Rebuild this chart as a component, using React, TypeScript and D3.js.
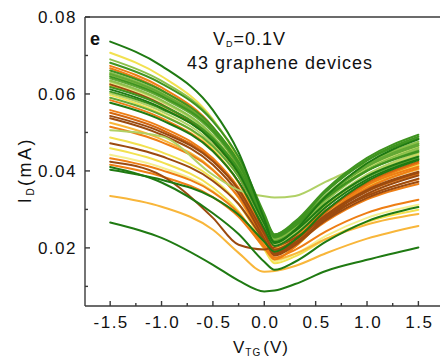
import React from 'react';
import * as d3 from 'd3';

// Gate voltage grid (V) at which each device curve is read
const X_GRID = [-1.5, -1.0, -0.5, -0.25, 0, 0.1, 0.3, 0.6, 1.0, 1.5];

// Drain current (mA) for 43 graphene devices
const I_D = [
  [0.0736, 0.0673, 0.0558, 0.0448, 0.0275, 0.0212, 0.0247, 0.0334, 0.042, 0.0482],
  [0.0707, 0.0646, 0.0534, 0.0427, 0.0259, 0.0198, 0.023, 0.0309, 0.0387, 0.0444],
  [0.069, 0.0634, 0.0532, 0.0434, 0.0281, 0.0225, 0.0258, 0.0338, 0.0418, 0.0476],
  [0.0681, 0.0627, 0.0529, 0.0436, 0.0289, 0.0235, 0.0269, 0.0352, 0.0434, 0.0494],
  [0.0673, 0.0617, 0.0514, 0.0416, 0.0261, 0.0205, 0.0232, 0.0298, 0.0364, 0.0411],
  [0.0667, 0.061, 0.0507, 0.0407, 0.0252, 0.0195, 0.0221, 0.0284, 0.0347, 0.0392],
  [0.0661, 0.0609, 0.0514, 0.0424, 0.0282, 0.023, 0.0264, 0.0347, 0.0429, 0.0489],
  [0.0655, 0.0603, 0.0507, 0.0416, 0.0272, 0.022, 0.0253, 0.0333, 0.0414, 0.0472],
  [0.0652, 0.0601, 0.0508, 0.0419, 0.0279, 0.0228, 0.0259, 0.0335, 0.0411, 0.0466],
  [0.0649, 0.0597, 0.0502, 0.0412, 0.027, 0.0218, 0.0249, 0.0327, 0.0404, 0.046],
  [0.0645, 0.0595, 0.0505, 0.0418, 0.0282, 0.0232, 0.0265, 0.0346, 0.0427, 0.0485],
  [0.0641, 0.0591, 0.05, 0.0412, 0.0275, 0.0225, 0.0257, 0.0335, 0.0414, 0.047],
  [0.0635, 0.0584, 0.0491, 0.0402, 0.0263, 0.0212, 0.0244, 0.0322, 0.04, 0.0456],
  [0.0632, 0.0581, 0.0487, 0.0397, 0.0256, 0.0205, 0.0236, 0.0314, 0.0391, 0.0447],
  [0.0628, 0.0579, 0.049, 0.0405, 0.0271, 0.0222, 0.0253, 0.033, 0.0408, 0.0463],
  [0.0625, 0.0573, 0.0477, 0.0386, 0.0242, 0.019, 0.0214, 0.0272, 0.033, 0.0372],
  [0.0621, 0.057, 0.0478, 0.0389, 0.0251, 0.02, 0.0227, 0.0292, 0.0357, 0.0404],
  [0.0618, 0.0571, 0.0485, 0.0404, 0.0275, 0.0228, 0.0257, 0.0329, 0.04, 0.0452],
  [0.0612, 0.0564, 0.0477, 0.0394, 0.0263, 0.0215, 0.0244, 0.0315, 0.0386, 0.0437],
  [0.0606, 0.0561, 0.048, 0.0402, 0.028, 0.0235, 0.0263, 0.0332, 0.0401, 0.045],
  [0.0602, 0.0555, 0.0469, 0.0386, 0.0257, 0.021, 0.024, 0.0314, 0.0387, 0.044],
  [0.0597, 0.0548, 0.0457, 0.037, 0.0234, 0.0185, 0.0215, 0.029, 0.0364, 0.0418],
  [0.059, 0.0545, 0.0464, 0.0385, 0.0263, 0.0218, 0.0246, 0.0315, 0.0384, 0.0433],
  [0.0584, 0.0537, 0.0452, 0.037, 0.0242, 0.0195, 0.0219, 0.0277, 0.0336, 0.0378],
  [0.0577, 0.0532, 0.0451, 0.0372, 0.025, 0.0205, 0.0234, 0.0306, 0.0378, 0.043],
  [0.0558, 0.0514, 0.0433, 0.0356, 0.0234, 0.019, 0.0213, 0.0269, 0.0326, 0.0366],
  [0.0551, 0.0507, 0.0427, 0.035, 0.0229, 0.0185, 0.0216, 0.0293, 0.0369, 0.0424],
  [0.0543, 0.0501, 0.0425, 0.0352, 0.0237, 0.0195, 0.0221, 0.0286, 0.0351, 0.0398],
  [0.0537, 0.0494, 0.0416, 0.0341, 0.0223, 0.018, 0.0207, 0.0274, 0.034, 0.0388],
  [0.0525, 0.0482, 0.0404, 0.033, 0.0213, 0.017, 0.0185, 0.0223, 0.0261, 0.0288],
  [0.0515, 0.0475, 0.0402, 0.0332, 0.0222, 0.0182, 0.0211, 0.0283, 0.0355, 0.0407],
  [0.0506, 0.049, 0.039, 0.035, 0.0334, 0.0331, 0.0335, 0.0372, 0.042, 0.0466],
  [0.0487, 0.0449, 0.038, 0.0314, 0.021, 0.0172, 0.0203, 0.0281, 0.0358, 0.0414],
  [0.0472, 0.0438, 0.0374, 0.0314, 0.0219, 0.0185, 0.0212, 0.028, 0.0347, 0.0395],
  [0.0459, 0.0423, 0.0357, 0.0295, 0.0196, 0.016, 0.0178, 0.0223, 0.0267, 0.0299],
  [0.0442, 0.0409, 0.0348, 0.029, 0.0198, 0.0165, 0.0184, 0.0231, 0.0278, 0.0312],
  [0.0433, 0.0402, 0.0345, 0.0291, 0.0206, 0.0175, 0.0195, 0.0243, 0.0291, 0.0325],
  [0.0424, 0.0388, 0.0278, 0.0208, 0.0196, 0.0202, 0.0226, 0.0282, 0.0335, 0.038],
  [0.0416, 0.0386, 0.0332, 0.0281, 0.02, 0.017, 0.0203, 0.0283, 0.0363, 0.042],
  [0.041, 0.037, 0.029, 0.0236, 0.0164, 0.0143, 0.0164, 0.0216, 0.0269, 0.0306],
  [0.0403, 0.0377, 0.0331, 0.0286, 0.0216, 0.019, 0.0221, 0.0297, 0.0373, 0.0428],
  [0.0335, 0.0307, 0.0247, 0.0187, 0.0138, 0.014, 0.0153, 0.0186, 0.0224, 0.0257],
  [0.0266, 0.0226, 0.0156, 0.0115, 0.0087, 0.0089, 0.0106, 0.014, 0.0169, 0.0201],
];

// Colour family of each device curve
const TONES = [
  'dg', 'yel', 'lg', 'g', 'or', 'or', 'g', 'lg', 'mg', 'lg', 'g', 'mg', 'lg', 'yg', 'ly',
  'br', 'lor', 'g', 'dg', 'g', 'yg', 'yel', 'mg', 'or', 'dg', 'or', 'dor', 'br', 'br',
  'lor', 'or', 'yg', 'yel', 'br', 'yel', 'ly', 'or', 'br', 'or', 'dg', 'dg', 'lor', 'dg',
];

const PALETTE: Record<string, string> = {
  dg: '#1f7a12',
  g: '#3f9420',
  mg: '#62a834',
  lg: '#8cc04a',
  yg: '#b0d065',
  yel: '#f2e150',
  ly: '#f5ef8e',
  lor: '#f8b63a',
  or: '#ee7e14',
  dor: '#d4660e',
  br: '#9b4a0f',
};

const LAYER = ['ly', 'yel', 'lor', 'or', 'dor', 'br', 'yg', 'lg', 'mg', 'g', 'dg'];

const Y_MAJOR = [0.02, 0.04, 0.06, 0.08];
const Y_MINOR = [0.01, 0.03, 0.05, 0.07];
const X_MAJOR = [-1.5, -1.0, -0.5, 0.0, 0.5, 1.0, 1.5];
const X_MINOR = [-1.25, -0.75, -0.25, 0.25, 0.75, 1.25];

const FONT = '"Liberation Sans", Arial, sans-serif';

export default function App() {
  const W = 440;
  const H = 359;
  const left = 85;
  const top = 17;
  const bottom = 306;
  const right = 441;
  const x = d3.scaleLinear().domain([-1.745, 1.72]).range([left, right]);
  const y = d3.scaleLinear().domain([0.0049, 0.08]).range([bottom, top]);
  const line = d3
    .line<number>()
    .x((_, i) => x(X_GRID[i]))
    .y((d) => y(d))
    .curve(d3.curveMonotoneX);

  const order = I_D.map((_, i) => i).sort(
    (a, b) => LAYER.indexOf(TONES[a]) - LAYER.indexOf(TONES[b])
  );
  const axisColor = '#3a3a3a';

  return (
    <svg
      width={W}
      height={H}
      viewBox={`0 0 ${W} ${H}`}
      style={{ position: 'absolute', left: 0, top: 0, background: '#fff' }}
      fontFamily={FONT}
    >
      <rect x={0} y={0} width={W} height={H} fill="#fff" />
      <g fill="none" strokeWidth={2} strokeLinecap="round">
        {order.map((i) => (
          <path key={i} d={line(I_D[i]) || ''} stroke={PALETTE[TONES[i]]} />
        ))}
      </g>
      {/* frame */}
      <g stroke={axisColor} strokeWidth={1.4} fill="none">
        <line x1={left} y1={top} x2={left} y2={bottom} />
        <line x1={left} y1={bottom} x2={W} y2={bottom} />
        <line x1={left} y1={top} x2={W} y2={top} />
        {Y_MAJOR.map((v) => (
          <line key={'ym' + v} x1={left} x2={left + 5} y1={y(v)} y2={y(v)} />
        ))}
        {Y_MINOR.map((v) => (
          <line key={'yn' + v} x1={left} x2={left + 3} y1={y(v)} y2={y(v)} />
        ))}
        {X_MAJOR.map((v) => (
          <line key={'xm' + v} x1={x(v)} x2={x(v)} y1={bottom} y2={bottom - 5} />
        ))}
        {X_MINOR.map((v) => (
          <line key={'xn' + v} x1={x(v)} x2={x(v)} y1={bottom} y2={bottom - 3} />
        ))}
      </g>
      <g fontSize={17} fill="#111" letterSpacing={1.5}>
        {Y_MAJOR.map((v) => (
          <text key={'yl' + v} x={77} y={y(v)} dy="0.36em" textAnchor="end">
            {v.toFixed(2)}
          </text>
        ))}
        {X_MAJOR.map((v) => (
          <text key={'xl' + v} x={x(v) + 1} y={328} textAnchor="middle">
            {v.toFixed(1)}
          </text>
        ))}
      </g>
      <text x={90} y={45} fontSize={18} fontWeight="bold" fill="#111">
        e
      </text>
      <text x={213} y={45} fontSize={18} fill="#111" letterSpacing={1}>
        V
        <tspan fontSize={9} dy={2}>
          D
        </tspan>
        <tspan dy={-2}>=0.1V</tspan>
      </text>
      <text x={187} y={69} fontSize={18} fill="#111" letterSpacing={1}>
        43 graphene devices
      </text>
      <text
        transform="translate(31,170) rotate(-90)"
        fontSize={18}
        fill="#111"
        textAnchor="middle"
        letterSpacing={2.5}
      >
        I
        <tspan fontSize={10} dy={3}>
          D
        </tspan>
        <tspan dy={-3}>(mA)</tspan>
      </text>
      <text x={233} y={353} fontSize={17} fill="#111" letterSpacing={1}>
        V
        <tspan fontSize={10} dy={3}>
          TG
        </tspan>
        <tspan dy={-3} dx={2}>
          (V)
        </tspan>
      </text>
    </svg>
  );
}
